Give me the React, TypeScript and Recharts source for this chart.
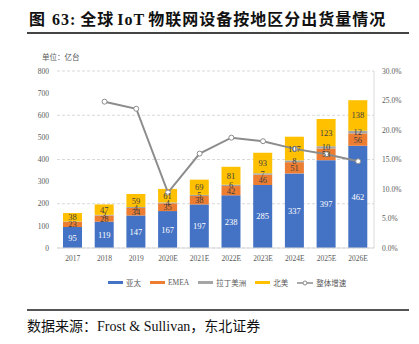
import React from "react";
import { ComposedChart, Bar, Line, XAxis, YAxis, CartesianGrid, LabelList } from "recharts";

// 年份 / 地区出货量（亿台）
const years = ["2017", "2018", "2019", "2020E", "2021E", "2022E", "2023E", "2024E", "2025E", "2026E"];
const apac = [95, 119, 147, 167, 197, 238, 285, 337, 397, 462];
const emea = [23, 28, 34, 35, 38, 42, 46, 51, 53, 56];
const latam = [2, 3, 4, 4, 5, 6, 7, 8, 10, 12];
const northAmerica = [38, 47, 59, 61, 69, 81, 93, 107, 123, 138];
const growth = [null, 24.8, 23.6, 9.4, 16.0, 18.7, 18.1, 16.8, 15.9, 14.7];

const leftTicks = [0, 100, 200, 300, 400, 500, 600, 700, 800];
const rightTicks = [0, 5, 10, 15, 20, 25, 30];

const legendItems = [
  { name: "亚太", color: "#4472C4", line: false },
  { name: "EMEA", color: "#ED7D31", line: false },
  { name: "拉丁美洲", color: "#A5A5A5", line: false },
  { name: "北美", color: "#FFC000", line: false },
  { name: "整体增速", color: "#8C8C8C", line: true },
];

const serif = "'Liberation Serif', 'Noto Sans CJK SC', serif";
const cjk = "'Noto Sans CJK SC', 'Liberation Serif', sans-serif";

export default function App() {
  const data = years.map((y, i) => ({
    year: y,
    apac: apac[i],
    emea: emea[i],
    latam: latam[i],
    na: northAmerica[i],
    growth: growth[i],
  }));

  const tickStyle = { fontSize: 7.5, fill: "#595959", fontFamily: serif };
  const labelStyle = { fontSize: 8.5, fontFamily: serif };

  return (
    <div style={{ position: "absolute", left: 0, top: 0, width: 419, height: 344, background: "#fff", overflow: "hidden" }}>
      {/* 标题 */}
      <div
        style={{
          position: "absolute",
          left: 29,
          top: 8,
          fontSize: 16,
          fontWeight: 700,
          fontFamily: cjk,
          color: "#111",
          whiteSpace: "nowrap",
          lineHeight: "20px",
          letterSpacing: 1,
        }}
      >
        图<span style={{ fontFamily: serif, marginLeft: 6 }}>63:</span>
        <span style={{ marginLeft: 4 }}>全球</span>
        <span style={{ fontFamily: serif, margin: "0 3px 0 3px" }}>IoT</span>
        物联网设备按地区分出货量情况
      </div>
      <div style={{ position: "absolute", left: 27, top: 32, width: 382, height: 1.5, background: "#444" }} />

      <div style={{ position: "absolute", left: 42, top: 51, fontSize: 7.5, color: "#595959", fontFamily: cjk }}>
        单位：亿台
      </div>

      <div style={{ position: "absolute", left: 0, top: 0 }}>
        <ComposedChart width={419} height={270} data={data} margin={{ top: 71, right: 0, bottom: 0, left: 0 }}>
          <CartesianGrid yAxisId="left" vertical={false} stroke="#D9D9D9" strokeDasharray="3 2" />
          <XAxis
            dataKey="year"
            tick={tickStyle}
            tickLine={false}
            axisLine={{ stroke: "#D9D9D9" }}
            height={22}
            interval={0}
          />
          <YAxis
            yAxisId="left"
            domain={[0, 800]}
            ticks={leftTicks}
            tick={tickStyle}
            tickLine={false}
            axisLine={false}
            width={57}
          />
          <YAxis
            yAxisId="right"
            orientation="right"
            domain={[0, 30]}
            ticks={rightTicks}
            tick={tickStyle}
            tickFormatter={(v: number) => `${v.toFixed(1)}%`}
            tickLine={false}
            axisLine={{ stroke: "#D9D9D9" }}
            width={45}
          />
          <Bar yAxisId="left" dataKey="apac" stackId="a" fill="#4472C4" barSize={19} isAnimationActive={false}>
            <LabelList dataKey="apac" position="center" style={{ ...labelStyle, fill: "#fff" }} />
          </Bar>
          <Bar yAxisId="left" dataKey="emea" stackId="a" fill="#ED7D31" barSize={19} isAnimationActive={false}>
            <LabelList dataKey="emea" position="center" style={{ ...labelStyle, fill: "#404040" }} />
          </Bar>
          <Bar yAxisId="left" dataKey="latam" stackId="a" fill="#A5A5A5" barSize={19} isAnimationActive={false}>
            <LabelList
              dataKey="latam"
              position="center"
              formatter={(v: number) => (v < 3 ? "" : v)}
              style={{ ...labelStyle, fill: "#404040" }}
            />
          </Bar>
          <Bar yAxisId="left" dataKey="na" stackId="a" fill="#FFC000" barSize={19} isAnimationActive={false}>
            <LabelList dataKey="na" position="center" style={{ ...labelStyle, fill: "#404040" }} />
          </Bar>
          <Line
            yAxisId="right"
            dataKey="growth"
            stroke="#8C8C8C"
            strokeWidth={2}
            dot={{ r: 2.5, fill: "#fff", stroke: "#8C8C8C", strokeWidth: 1 }}
            isAnimationActive={false}
            connectNulls={false}
          />
        </ComposedChart>
      </div>

      {/* 图例 */}
      <div
        style={{
          position: "absolute",
          left: 108,
          top: 277,
          display: "flex",
          gap: 9,
          fontSize: 7.5,
          color: "#595959",
          fontFamily: cjk,
          alignItems: "center",
          whiteSpace: "nowrap",
        }}
      >
        {legendItems.map((it) => (
          <div key={it.name} style={{ display: "flex", alignItems: "center", gap: 3 }}>
            {it.line ? (
              <svg width={16} height={8}>
                <line x1={0} y1={4} x2={16} y2={4} stroke={it.color} strokeWidth={1.5} />
                <circle cx={8} cy={4} r={2} fill="#fff" stroke={it.color} strokeWidth={1} />
              </svg>
            ) : (
              <div style={{ width: 15, height: 3.5, background: it.color }} />
            )}
            <span style={{ fontFamily: it.name === "EMEA" ? serif : cjk }}>{it.name}</span>
          </div>
        ))}
      </div>

      <div style={{ position: "absolute", left: 27, top: 309, width: 382, height: 1.5, background: "#555" }} />
      <div
        style={{
          position: "absolute",
          left: 27,
          top: 315,
          fontSize: 14,
          fontFamily: cjk,
          color: "#111",
          whiteSpace: "nowrap",
          lineHeight: "20px",
        }}
      >
        数据来源：<span style={{ fontFamily: serif }}>Frost &amp; Sullivan</span>，东北证券
      </div>
    </div>
  );
}
